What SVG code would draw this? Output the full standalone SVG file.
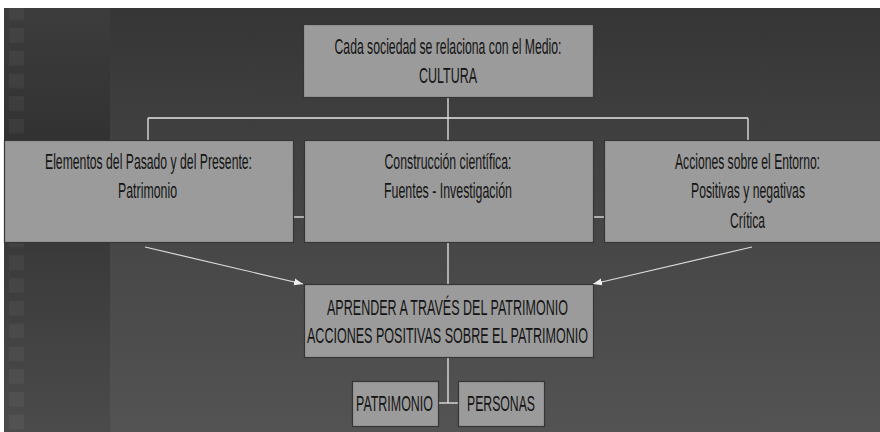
<svg xmlns="http://www.w3.org/2000/svg" width="880" height="432" viewBox="0 0 880 432">
<defs>
<linearGradient id="bg" x1="0" y1="0" x2="0" y2="1">
<stop offset="0" stop-color="#353535"/>
<stop offset="0.35" stop-color="#414141"/>
<stop offset="1" stop-color="#535353"/>
</linearGradient>
<linearGradient id="strip" x1="0" y1="0" x2="0" y2="1">
<stop offset="0" stop-color="#3d3d3d"/>
<stop offset="0.35" stop-color="#313131"/>
<stop offset="1" stop-color="#4b4b4b"/>
</linearGradient>
<pattern id="sq" x="0" y="5.25" width="200" height="22.75" patternUnits="userSpaceOnUse">
<rect x="9" y="0" width="15" height="14.5" fill="#ffffff" fill-opacity="0.045"/>
</pattern>
<marker id="ah" markerUnits="userSpaceOnUse" markerWidth="10" markerHeight="8" refX="9" refY="4" orient="auto">
<path d="M0,0.5 L9,4 L0,7.5 Z" fill="#f0f0f0"/>
</marker>
<style>
.box{fill:#9b9b9b;stroke:#363636;stroke-width:1.2}
.t{font-family:"Liberation Sans",Arial,sans-serif;font-size:22px;fill:#141414;text-anchor:middle}
.c{stroke:#e6e6e6;stroke-width:1.3;fill:none}
.a{stroke:#dcdcdc;stroke-width:1.2;fill:none;marker-end:url(#ah)}
</style>
</defs>
<rect width="880" height="432" fill="url(#bg)"/>
<rect x="4" y="0" width="106" height="432" fill="url(#strip)"/>
<rect x="4" y="0" width="106" height="432" fill="url(#sq)"/>
<rect x="0" y="0" width="880" height="8" fill="#ffffff"/>
<rect x="0" y="0" width="4" height="432" fill="#ffffff"/>

<g id="connectors">
<line class="c" x1="448" y1="98" x2="448" y2="140"/>
<line class="c" x1="148" y1="118" x2="748" y2="118"/>
<line class="c" x1="148" y1="118" x2="148" y2="140"/>
<line class="c" x1="748" y1="118" x2="748" y2="140"/>
<line class="c" x1="289" y1="217" x2="308" y2="217"/>
<line class="c" x1="590" y1="217" x2="607" y2="217"/>
<line class="c" x1="448" y1="243" x2="448" y2="284"/>
<line class="a" x1="145" y1="247" x2="303" y2="284"/>
<line class="a" x1="752" y1="247" x2="593" y2="284"/>
<line class="c" x1="448" y1="358" x2="448" y2="403"/>
<line class="c" x1="438" y1="403" x2="458" y2="403"/>
</g>

<g id="cultura">
<rect class="box" x="303.5" y="24.5" width="290" height="73"/>
<text class="t" x="448" y="54" textLength="227" lengthAdjust="spacingAndGlyphs">Cada sociedad se relaciona con el Medio:</text>
<text class="t" x="448" y="83" textLength="58" lengthAdjust="spacingAndGlyphs">CULTURA</text>
</g>

<g id="patrimonio-elementos">
<rect class="box" x="4.5" y="140.5" width="289" height="102"/>
<text class="t" x="148.5" y="169" textLength="207" lengthAdjust="spacingAndGlyphs">Elementos del Pasado y del Presente:</text>
<text class="t" x="147.5" y="198" textLength="59" lengthAdjust="spacingAndGlyphs">Patrimonio</text>
</g>

<g id="construccion">
<rect class="box" x="304.5" y="140.5" width="289" height="102"/>
<text class="t" x="448" y="169" textLength="127" lengthAdjust="spacingAndGlyphs">Construcción científica:</text>
<text class="t" x="448" y="198" textLength="128" lengthAdjust="spacingAndGlyphs">Fuentes - Investigación</text>
</g>

<g id="acciones">
<rect class="box" x="604.5" y="140.5" width="280" height="102"/>
<text class="t" x="747.5" y="169" textLength="145" lengthAdjust="spacingAndGlyphs">Acciones sobre el Entorno:</text>
<text class="t" x="748" y="198" textLength="114" lengthAdjust="spacingAndGlyphs">Positivas y negativas</text>
<text class="t" x="747.5" y="228" textLength="35" lengthAdjust="spacingAndGlyphs">Crítica</text>
</g>

<g id="aprender">
<rect class="box" x="304.5" y="284.5" width="289" height="73"/>
<text class="t" x="447.5" y="315" textLength="241" lengthAdjust="spacingAndGlyphs">APRENDER A TRAVÉS DEL PATRIMONIO</text>
<text class="t" x="447.5" y="343" textLength="281" lengthAdjust="spacingAndGlyphs">ACCIONES POSITIVAS SOBRE EL PATRIMONIO</text>
</g>

<g id="patrimonio">
<rect class="box" x="352.5" y="381.5" width="86" height="45"/>
<text class="t" x="394.5" y="411" textLength="77" lengthAdjust="spacingAndGlyphs">PATRIMONIO</text>
</g>

<g id="personas">
<rect class="box" x="458.5" y="381.5" width="86" height="45"/>
<text class="t" x="501" y="411" textLength="68" lengthAdjust="spacingAndGlyphs">PERSONAS</text>
</g>
</svg>
